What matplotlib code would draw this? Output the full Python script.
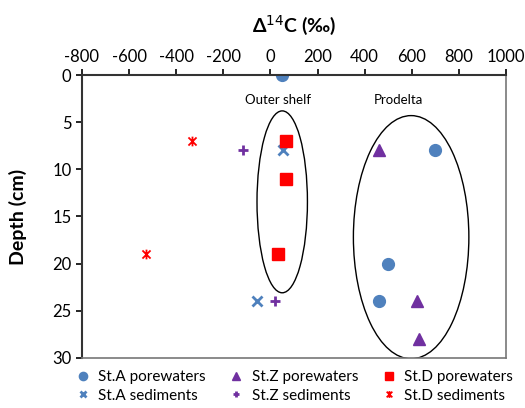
import matplotlib
matplotlib.use("Agg")
import matplotlib.pyplot as plt
from matplotlib.patches import Ellipse
from matplotlib.path import Path

plt.rcParams['font.family'] = ['Lato', 'DejaVu Sans']
plt.rcParams['axes.unicode_minus'] = False

# data: (delta14C, depth)
sta_pw_x = [50, 700, 500, 462]
sta_pw_y = [0, 8, 20, 24]
stz_pw_x = [462, 621, 630]
stz_pw_y = [8, 24, 28]
std_pw_x = [64, 64, 33]
std_pw_y = [7, 11, 19]
sta_sed_x = [54, -57]
sta_sed_y = [8, 24]
stz_sed_x = [-118, 18]
stz_sed_y = [8, 24]
std_sed_x = [-332, -528]
std_sed_y = [7, 19]

xticks = list(range(-800, 1001, 200))
yticks = list(range(0, 31, 5))

blue = '#4F81BD'
purple = '#7030A0'
red = '#FF0000'

# excel-like asterisk: x plus vertical bar
ast = Path([(-1, -1), (1, 1), (-1, 1), (1, -1), (0, -1.2), (0, 1.2)],
           [Path.MOVETO, Path.LINETO, Path.MOVETO, Path.LINETO, Path.MOVETO, Path.LINETO])

fig = plt.figure(figsize=(5.25, 4.08), dpi=100)
ax = fig.add_axes([0.156, 0.123, 0.808, 0.693])

ax.plot(sta_pw_x, sta_pw_y, 'o', color=blue, ms=8.5, ls='none', label='St.A porewaters')
ax.plot(sta_sed_x, sta_sed_y, 'x', color=blue, ms=7, mew=2, ls='none', label='St.A sediments')
ax.plot(stz_pw_x, stz_pw_y, '^', color=purple, ms=8.5, ls='none', label='St.Z porewaters')
ax.plot(stz_sed_x, stz_sed_y, '+', color=purple, ms=7, mew=2, ls='none', label='St.Z sediments')
ax.plot(std_pw_x, std_pw_y, 's', color=red, ms=8.5, ls='none', label='St.D porewaters')
ax.plot(std_sed_x, std_sed_y, marker=ast, color=red, ms=7, mew=1.3, ls='none', label='St.D sediments')

ax.add_patch(Ellipse((50, 13.45), 214, 19.3, fill=False, ec='black', lw=1))
ax.add_patch(Ellipse((597, 17.2), 490, 25.8, fill=False, ec='black', lw=1))
ax.text(34, 2.6, 'Outer shelf', ha='center', va='center', fontsize=9.5)
ax.text(545, 2.6, 'Prodelta', ha='center', va='center', fontsize=9.5)

ax.set_xlim(-800, 1000)
ax.set_ylim(30, 0)
ax.set_xticks(xticks)
ax.set_yticks(yticks)
ax.xaxis.tick_top()
ax.xaxis.set_label_position('top')
ax.tick_params(labelsize=12, length=4, width=1.2, direction='out')
ax.set_xlabel('Δ$^{14}$C (‰)', fontsize=14, fontweight='bold', labelpad=12)
ax.set_ylabel('Depth (cm)', fontsize=14, fontweight='bold', labelpad=18)

for s in ['left', 'top']:
    ax.spines[s].set_linewidth(1.5)
    ax.spines[s].set_color('#333333')
for s in ['right', 'bottom']:
    ax.spines[s].set_color('#777777')
    ax.spines[s].set_linewidth(1.2)

ax.legend(ncol=3, loc='upper center', bbox_to_anchor=(0.5, -0.005), frameon=False,
          fontsize=11, handletextpad=0.5, columnspacing=1.5, handlelength=1.0,
          labelspacing=0.3, borderpad=0.2, markerscale=0.7)

fig.savefig('out.png', dpi=100)
